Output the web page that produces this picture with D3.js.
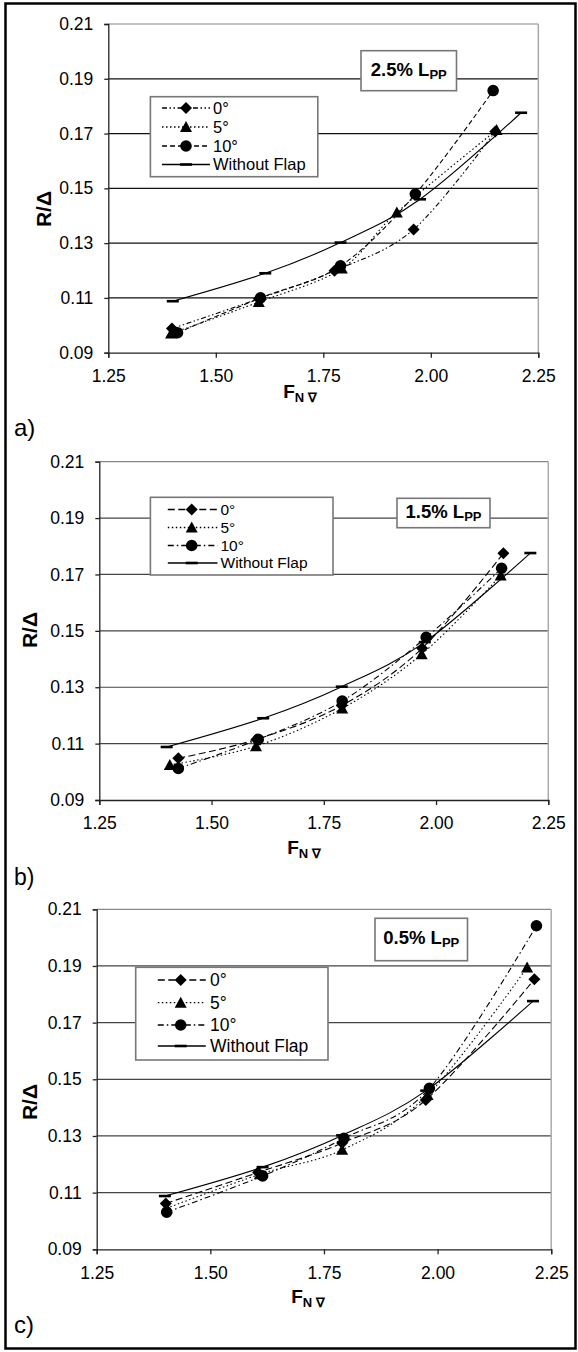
<!DOCTYPE html>
<html>
<head>
<meta charset="utf-8">
<script src="https://cdn.jsdelivr.net/npm/d3@7"></script>
<style>
  body { margin: 0; background: #fff; }
  svg { display: block; }
  text { font-family: "Liberation Sans", Arial, sans-serif; fill: #000; }
</style>
</head>
<body>
<div id="chart"></div>
<script>
const xTicks = [1.25, 1.50, 1.75, 2.00, 2.25];
const yTicks = [0.09, 0.11, 0.13, 0.15, 0.17, 0.19, 0.21];
const seriesNames = ["0°", "5°", "10°", "Without Flap"];
const flapLabels = ["2.5%", "1.5%", "0.5%"];
const panelTags = ["a)", "b)", "c)"];

// bare hull, same curve in every panel
const noFlapFn = [1.40, 1.615, 1.79, 1.975, 2.21];
const noFlapR = [0.1088, 0.1190, 0.1302, 0.1460, 0.1776];

// a) flap 2.5% Lpp
const a0Fn = [1.398, 1.600, 1.776, 1.960, 2.150];
const a0R = [0.0988, 0.1097, 0.1199, 0.1350, 0.1708];
const a5Fn = [1.396, 1.600, 1.793, 1.921, 2.153];
const a5R = [0.0970, 0.1085, 0.1207, 0.1412, 0.1713];
const a10Fn = [1.411, 1.604, 1.790, 1.964, 2.145];
const a10R = [0.0973, 0.1100, 0.1217, 0.1479, 0.1857];

// b) flap 1.5% Lpp
const b0Fn = [1.426, 1.600, 1.790, 1.969, 2.150];
const b0R = [0.1048, 0.1115, 0.1235, 0.1438, 0.1775];
const b5Fn = [1.407, 1.599, 1.791, 1.968, 2.144];
const b5R = [0.1024, 0.1091, 0.1225, 0.1417, 0.1696];
const b10Fn = [1.426, 1.604, 1.791, 1.978, 2.146];
const b10R = [0.1012, 0.1115, 0.1251, 0.1477, 0.1722];

// c) flap 0.5% Lpp
const c0Fn = [1.402, 1.605, 1.790, 1.974, 2.213];
const c0R = [0.1062, 0.1171, 0.1275, 0.1427, 0.1853];
const c5Fn = [1.404, 1.609, 1.790, 1.978, 2.197];
const c5R = [0.1045, 0.1165, 0.1251, 0.1445, 0.1895];
const c10Fn = [1.404, 1.615, 1.794, 1.982, 2.2175];
const c10R = [0.1031, 0.1159, 0.1292, 0.1468, 0.2042];

const W = 578, H = 1352;
const svg = d3.select("#chart").append("svg")
    .attr("width", W)
    .attr("height", H);

svg.append("rect")
    .attr("x", 5.5).attr("y", 3.5)
    .attr("width", 570).attr("height", 1345)
    .attr("fill", "#fff")
    .attr("stroke", "#000")
    .attr("stroke-width", 2.5);

const zip = (xs, ys) => xs.map((x, i) => [x, ys[i]]);

// marker shapes, drawn around (0,0)
function markerPath(kind) {
    if (kind === "diamond") return "M0,-6L6,0L0,6L-6,0Z";
    if (kind === "triangle") return "M0,-6L6,5L-6,5Z";
    if (kind === "circle") return d3.arc()({innerRadius: 0, outerRadius: 5.8, startAngle: 0, endAngle: 2 * Math.PI});
    return "M-6,-1.3H6V1.3H-6Z";
}

const dashes = {
    dashDotDot: "5,2.5,1.5,2.5,1.5,2.5",
    dotted: "1.5,2.5",
    dashed: "5,3",
    longDash: "7,3.5",
    dashDot: "6,3,1.5,3",
    solid: null
};

const panels = [
    {
        box: {left: 108.3, right: 538.3, top: 24, bottom: 352.7},
        series: [zip(a0Fn, a0R), zip(a5Fn, a5R), zip(a10Fn, a10R), zip(noFlapFn, noFlapR)],
        styles: ["dashDotDot", "dotted", "dashed", "solid"],
        legend: {x0: 150.4, y0: 96.7, x1: 317.8, y1: 176.7, rows: [108, 127, 146, 164.5], l0: 162, l1: 210, mk: 186, tx: 213, fs: 16.5},
        note: {x0: 361, y0: 50.7, x1: 456.5, y1: 90.7},
        yTitle: [44, 209], xTitle: [300, 392],
        tag: {x: 14, y: 436, serif: true}, gridColor: "#111"
    },
    {
        box: {left: 99.3, right: 548.3, top: 461.7, bottom: 800},
        series: [zip(b0Fn, b0R), zip(b5Fn, b5R), zip(b10Fn, b10R), zip(noFlapFn, noFlapR)],
        styles: ["longDash", "dotted", "dashDot", "solid"],
        legend: {x0: 150.4, y0: 497.3, x1: 333, y1: 575, rows: [509.5, 527.5, 545.5, 563], l0: 167.8, l1: 217.5, mk: 191.7, tx: 220.5, fs: 15.5},
        note: {x0: 397, y0: 498.3, x1: 490, y1: 527.7},
        yTitle: [30, 630], xTitle: [304, 848],
        tag: {x: 14, y: 885, serif: false}, gridColor: "#444"
    },
    {
        box: {left: 96.7, right: 551.2, top: 909.3, bottom: 1249.3},
        series: [zip(c0Fn, c0R), zip(c5Fn, c5R), zip(c10Fn, c10R), zip(noFlapFn, noFlapR)],
        styles: ["longDash", "dotted", "dashDot", "solid"],
        legend: {x0: 135.7, y0: 967.3, x1: 328, y1: 1060, rows: [980, 1002.7, 1025, 1046], l0: 157.8, l1: 205.8, mk: 180.7, tx: 210, fs: 17.5},
        note: {x0: 375, y0: 918.3, x1: 467.5, y1: 960.7},
        yTitle: [30, 1102], xTitle: [308, 1297],
        tag: {x: 14, y: 1333, serif: true}, gridColor: "#444"
    }
];

const markerKinds = ["diamond", "triangle", "circle", "bar"];

function drawPanel(p, idx) {
    const b = p.box;
    const x = d3.scaleLinear().domain([1.25, 2.25]).range([b.left, b.right]);
    const y = d3.scaleLinear().domain([0.09, 0.21]).range([b.bottom, b.top]);
    const g = svg.append("g");

    // horizontal gridlines
    g.selectAll("line.grid")
        .data(yTicks.filter(v => v > 0.09))
        .enter().append("line")
        .attr("class", "grid")
        .attr("x1", b.left).attr("x2", b.right)
        .attr("y1", d => y(d)).attr("y2", d => y(d))
        .attr("stroke", d => d === 0.21 ? "#888" : p.gridColor)
        .attr("stroke-width", 1.2);

    // right border of plot area
    g.append("line")
        .attr("x1", b.right).attr("x2", b.right)
        .attr("y1", b.top).attr("y2", b.bottom)
        .attr("stroke", "#aaa").attr("stroke-width", 1.5);

    const yAxis = g.append("g")
        .attr("transform", "translate(" + b.left + ",0)")
        .call(d3.axisLeft(y).tickValues(yTicks).tickFormat(d3.format(".2f")).tickSize(4).tickPadding(11));
    const xAxis = g.append("g")
        .attr("transform", "translate(0," + b.bottom + ")")
        .call(d3.axisBottom(x).tickValues(xTicks).tickFormat(d3.format(".2f")).tickSize(5).tickPadding(12));
    [yAxis, xAxis].forEach(ax => {
        ax.select(".domain").attr("stroke", "#222").attr("stroke-width", 1.3);
        ax.selectAll(".tick line").attr("stroke", "#222").attr("stroke-width", 1.3);
        ax.selectAll("text").attr("font-size", 17.5).attr("fill", "#000")
            .attr("font-family", "Liberation Sans, Arial, sans-serif");
    });

    // axis titles
    g.append("text")
        .attr("transform", "translate(" + p.yTitle[0] + "," + p.yTitle[1] + ") rotate(-90)")
        .attr("text-anchor", "middle")
        .attr("dy", "0.35em")
        .attr("font-size", 21).attr("font-weight", "bold")
        .text("R/Δ");
    const xt = g.append("text")
        .attr("x", p.xTitle[0]).attr("y", p.xTitle[1])
        .attr("text-anchor", "middle")
        .attr("dy", "0.35em")
        .attr("font-weight", "bold");
    xt.append("tspan").attr("font-size", 19).text("F");
    xt.append("tspan").attr("font-size", 13).attr("dy", 4).text("N ∇");

    // series lines and markers
    const line = d3.line()
        .x(d => x(d[0])).y(d => y(d[1]))
        .curve(d3.curveCatmullRom.alpha(0));
    p.series.forEach((pts, i) => {
        g.append("path")
            .datum(pts)
            .attr("d", line)
            .attr("fill", "none")
            .attr("stroke", "#000")
            .attr("stroke-width", 1.1)
            .attr("stroke-dasharray", dashes[p.styles[i]]);
    });
    // bare hull markers first so flap markers sit on top
    [3, 0, 1, 2].forEach(i => {
        g.selectAll(null)
            .data(p.series[i])
            .enter().append("path")
            .attr("d", markerPath(markerKinds[i]))
            .attr("transform", d => "translate(" + x(d[0]) + "," + y(d[1]) + ")")
            .attr("fill", "#000");
    });

    // legend
    const L = p.legend;
    g.append("rect")
        .attr("x", L.x0).attr("y", L.y0)
        .attr("width", L.x1 - L.x0).attr("height", L.y1 - L.y0)
        .attr("fill", "#fff").attr("stroke", "#777").attr("stroke-width", 1.6);
    seriesNames.forEach((name, i) => {
        const ry = L.rows[i];
        g.append("line")
            .attr("x1", L.l0).attr("x2", L.l1)
            .attr("y1", ry).attr("y2", ry)
            .attr("stroke", "#000").attr("stroke-width", 1.3)
            .attr("stroke-dasharray", dashes[p.styles[i]]);
        g.append("path")
            .attr("d", markerPath(markerKinds[i]))
            .attr("transform", "translate(" + L.mk + "," + ry + ")")
            .attr("fill", "#000");
        g.append("text")
            .attr("x", L.tx).attr("y", ry)
            .attr("dy", "0.35em")
            .attr("font-size", L.fs)
            .text(name);
    });

    // flap size note
    const N = p.note;
    g.append("rect")
        .attr("x", N.x0).attr("y", N.y0)
        .attr("width", N.x1 - N.x0).attr("height", N.y1 - N.y0)
        .attr("fill", "#fff").attr("stroke", "#777").attr("stroke-width", 1.6);
    const nt = g.append("text")
        .attr("x", (N.x0 + N.x1) / 2).attr("y", (N.y0 + N.y1) / 2)
        .attr("text-anchor", "middle")
        .attr("dy", "0.3em")
        .attr("font-weight", "bold");
    nt.append("tspan").attr("font-size", 18.5).text(flapLabels[idx] + " L");
    nt.append("tspan").attr("font-size", 13).attr("dy", 3).text("PP");

    // panel tag
    g.append("text")
        .attr("x", p.tag.x).attr("y", p.tag.y)
        .attr("font-size", p.tag.serif ? 24 : 23)
        .attr("font-family", p.tag.serif ? "Liberation Serif, Times New Roman, serif" : "Liberation Sans, Arial, sans-serif")
        .text(panelTags[idx]);
}

panels.forEach(drawPanel);
</script>
</body>
</html>
